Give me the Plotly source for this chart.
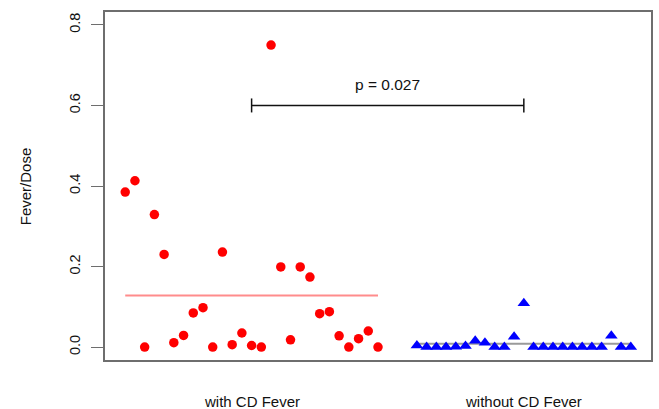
import numpy as np
import plotly.graph_objects as go

# ---- data ----
groups = ["with CD Fever", "without CD Fever"]
with_fever = [0.385, 0.413, 0.0, 0.329, 0.230, 0.011, 0.029, 0.085, 0.098,
              0.0, 0.236, 0.006, 0.035, 0.004, 0.0, 0.75, 0.199, 0.018,
              0.199, 0.174, 0.083, 0.088, 0.028, 0.0, 0.021, 0.040, 0.0]
without_fever = [0.004, 0.0, 0.0, 0.0, 0.001, 0.003, 0.016, 0.011, 0.0,
                 0.0, 0.026, 0.109, 0.0, 0.0, 0.0, 0.0, 0.0, 0.0, 0.0,
                 0.0, 0.028, 0.0, 0.0]
p_label = "p = 0.027"
p_bar_y = 0.6
ytick_vals = [0.0, 0.2, 0.4, 0.6, 0.8]
ytick_text = ["0.0", "0.2", "0.4", "0.6", "0.8"]
y_title = "Fever/Dose"

# index positions (R-style plot by index, gap of 3 between groups)
gap = 3
x_with = np.arange(1, len(with_fever) + 1)
x_without = np.arange(len(with_fever) + gap + 1,
                      len(with_fever) + gap + len(without_fever) + 1)
group_pos = [float(np.median(x_with)), float(np.median(x_without))]
n_total = x_without[-1]
ext = 0.04 * (n_total - 1)
x_range = [1 - ext, n_total + ext]
y_range = [0 - 0.04 * 0.8, 0.8 + 0.04 * 0.8]

FONT = "Liberation Sans, Arial, Helvetica, sans-serif"
fig = go.Figure()

# mean lines
fig.add_trace(go.Scatter(x=[x_with[0], x_with[-1]], y=[np.mean(with_fever)] * 2,
                         mode="lines", line=dict(color="#ff8c8c", width=2),
                         hoverinfo="skip"))
fig.add_trace(go.Scatter(x=[x_without[0], x_without[-1]], y=[np.mean(without_fever)] * 2,
                         mode="lines", line=dict(color="#9a9a9a", width=2),
                         hoverinfo="skip"))

# points
fig.add_trace(go.Scatter(x=x_with, y=with_fever, mode="markers",
                         marker=dict(symbol="circle", size=9.5, color="#ff0000",
                                     line=dict(width=0))))
fig.add_trace(go.Scatter(x=x_without, y=without_fever, mode="markers",
                         marker=dict(symbol="triangle-up", size=11, color="#0000ff",
                                     line=dict(width=0))))

# significance bar
fig.add_trace(go.Scatter(x=group_pos, y=[p_bar_y, p_bar_y], mode="lines+markers",
                         line=dict(color="#111111", width=1.5),
                         marker=dict(symbol="line-ns-open", size=10,
                                     line=dict(color="#111111", width=1.5)),
                         hoverinfo="skip"))

fig.add_annotation(x=float(np.mean(group_pos)), y=p_bar_y + 0.053, text=p_label,
                   showarrow=False, xanchor="center", yanchor="middle",
                   font=dict(family=FONT, size=15.5, color="#111111"))

for g, xp in zip(groups, group_pos):
    fig.add_annotation(x=xp, xref="x", y=-0.118, yref="paper", text=g,
                       showarrow=False, xanchor="center", yanchor="middle",
                       font=dict(family=FONT, size=15, color="#111111"))

fig.add_annotation(x=-0.146, xref="paper", y=0.5, yref="paper", text=y_title,
                   textangle=-90, showarrow=False, xanchor="center", yanchor="middle",
                   font=dict(family=FONT, size=15, color="#111111"))

fig.update_layout(
    width=659, height=409,
    margin=dict(l=105, r=6, t=12, b=49),
    paper_bgcolor="white", plot_bgcolor="white",
    showlegend=False,
    font=dict(family=FONT, color="#111111"),
    xaxis=dict(range=x_range, showgrid=False, zeroline=False,
               showticklabels=False, ticks="",
               showline=True, mirror=True, linecolor="#6e6e6e", linewidth=1.5),
    yaxis=dict(range=y_range, showgrid=False, zeroline=False,
               tickvals=ytick_vals, ticktext=ytick_text, tickangle=-90,
               ticks="outside", ticklen=12, tickcolor="#6e6e6e", tickwidth=1.2,
               tickfont=dict(family=FONT, size=14.5, color="#111111"),
               ticklabelstandoff=5,
               showline=True, mirror=True, linecolor="#6e6e6e", linewidth=1.5),
)

fig.write_html("out.html",
               config={"displayModeBar": False},
               post_script="document.body.style.margin='0';document.body.style.overflow='hidden';")
